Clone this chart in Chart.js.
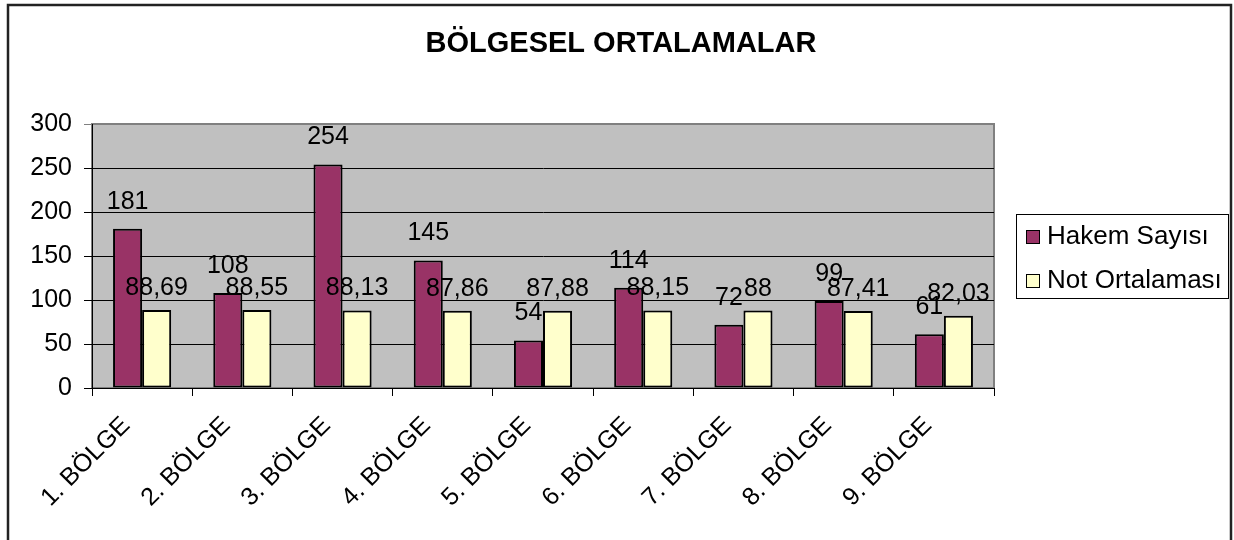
<!DOCTYPE html>
<html>
<head>
<meta charset="utf-8">
<script src="https://cdn.jsdelivr.net/npm/chart.js@4"></script>
<style>
  html, body { margin: 0; padding: 0; background: #fff; }
  canvas { display: block; }
</style>
</head>
<body>
<canvas id="c" width="1234" height="540"></canvas>
<script>
const categories = ['1. BÖLGE', '2. BÖLGE', '3. BÖLGE', '4. BÖLGE', '5. BÖLGE', '6. BÖLGE', '7. BÖLGE', '8. BÖLGE', '9. BÖLGE'];
const hakemSayisi = [181, 108, 254, 145, 54, 114, 72, 99, 61];
const notOrtalamasi = [88.69, 88.55, 88.13, 87.86, 87.88, 88.15, 88, 87.41, 82.03];
const seriesNames = ['Hakem Sayısı', 'Not Ortalaması'];
const chartTitle = 'BÖLGESEL ORTALAMALAR';

const FONT = '"Liberation Sans", Arial, sans-serif';

// Türkçe ondalık: virgül
const fmt = v => String(v).replace('.', ',');

const excelLook = {
    id: 'excelLook',
    beforeDraw(chart) {
        const { ctx, chartArea: a } = chart;
        ctx.save();
        ctx.fillStyle = '#fff';
        ctx.fillRect(0, 0, chart.width, chart.height);
        // dış çerçeve
        ctx.strokeStyle = '#222';
        ctx.lineWidth = 2.5;
        ctx.strokeRect(8, 5, 1223, 600);
        // çizim alanı
        ctx.fillStyle = '#c0c0c0';
        ctx.fillRect(a.left, a.top, a.right - a.left, a.bottom - a.top);
        ctx.strokeStyle = '#808080';
        ctx.lineWidth = 2;
        ctx.strokeRect(a.left, a.top, a.right - a.left, a.bottom - a.top);
        ctx.restore();
    },
    afterDatasetsDraw(chart) {
        const { ctx } = chart;
        ctx.save();
        ctx.font = '25px ' + FONT;
        ctx.fillStyle = '#000';
        ctx.textAlign = 'center';
        ctx.textBaseline = 'alphabetic';
        chart.data.datasets.forEach((ds, i) => {
            const gap = i === 0 ? 20 : 15;
            chart.getDatasetMeta(i).data.forEach((bar, j) => {
                ctx.fillText(fmt(ds.data[j]), bar.x, bar.y - gap);
            });
        });
        ctx.restore();
    },
    afterDraw(chart) {
        const { ctx } = chart;
        ctx.save();
        // başlık
        ctx.font = 'bold 29px ' + FONT;
        ctx.fillStyle = '#000';
        ctx.textAlign = 'center';
        ctx.textBaseline = 'middle';
        ctx.fillText(chartTitle, 621, 44);
        // gösterge
        ctx.fillStyle = '#fff';
        ctx.fillRect(1016, 214, 212, 84);
        ctx.strokeStyle = '#000';
        ctx.lineWidth = 1;
        ctx.strokeRect(1016.5, 214.5, 212, 84);
        ctx.font = '26px ' + FONT;
        ctx.textAlign = 'left';
        chart.data.datasets.forEach((ds, i) => {
            const y = 236 + i * 44;
            ctx.fillStyle = ds.backgroundColor;
            ctx.fillRect(1026, y - 6, 14, 14);
            ctx.strokeRect(1026.5, y - 5.5, 13, 13);
            ctx.fillStyle = '#000';
            ctx.fillText(ds.label, 1047, y + 1);
        });
        ctx.restore();
    }
};

new Chart(document.getElementById('c'), {
    type: 'bar',
    data: {
        labels: categories,
        datasets: [
            {
                label: seriesNames[0],
                data: hakemSayisi,
                backgroundColor: '#993366',
                borderColor: '#000',
                borderWidth: 2,
                borderSkipped: false
            },
            {
                label: seriesNames[1],
                data: notOrtalamasi,
                backgroundColor: '#ffffcc',
                borderColor: '#000',
                borderWidth: 2,
                borderSkipped: false
            }
        ]
    },
    options: {
        responsive: false,
        animation: false,
        devicePixelRatio: 1,
        layout: { padding: { left: 0, top: 124, right: 240, bottom: 0 } },
        datasets: {
            bar: { categoryPercentage: 0.58, barPercentage: 1 }
        },
        plugins: {
            legend: { display: false },
            title: { display: false },
            tooltip: { enabled: false }
        },
        scales: {
            x: {
                afterFit(scale) { scale.height = 152; },
                grid: {
                    offset: true,
                    drawOnChartArea: false,
                    drawTicks: true,
                    tickLength: 8,
                    color: '#000',
                    lineWidth: 1
                },
                border: { color: '#000', width: 1 },
                ticks: {
                    minRotation: 45,
                    maxRotation: 45,
                    autoSkip: false,
                    padding: 15,
                    labelOffset: -16,
                    color: '#000',
                    font: { family: FONT, size: 25 }
                }
            },
            y: {
                min: 0,
                max: 300,
                afterFit(scale) { scale.width = 92; },
                grid: {
                    color: ctx => (ctx.tick && ctx.tick.value === 300 ? '#808080' : '#000'),
                    tickLength: 8,
                    lineWidth: 1
                },
                border: { color: '#000', width: 1 },
                ticks: {
                    stepSize: 50,
                    padding: 12,
                    color: '#000',
                    font: { family: FONT, size: 25 }
                }
            }
        }
    },
    plugins: [excelLook]
});
</script>
</body>
</html>
